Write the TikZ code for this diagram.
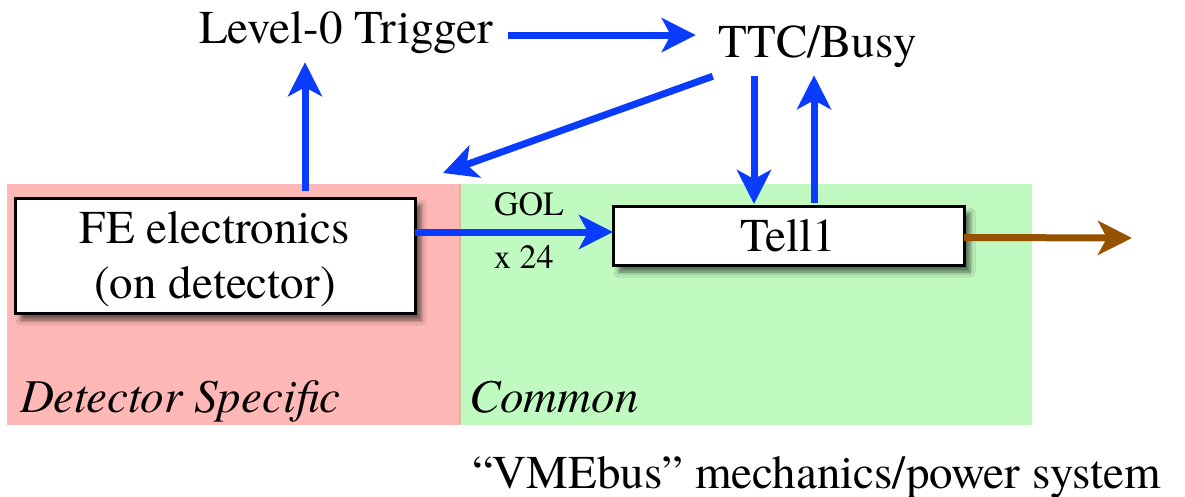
\documentclass[tikz,border=0pt]{standalone}
\usepackage{fontspec}
\setmainfont{TeX Gyre Termes}
\usetikzlibrary{arrows.meta,shadows.blur,calc}
\definecolor{pinkbg}{HTML}{FFB8B6}
\definecolor{greenbg}{HTML}{C0FAC0}
\definecolor{arrblue}{HTML}{0A3CFF}
\definecolor{brownarr}{HTML}{955200}
\definecolor{divtan}{HTML}{D9B99B}
\begin{document}
\begin{tikzpicture}[x=1pt,y=-1pt,
  txt/.style={inner sep=0pt, outer sep=0pt, font=\rmfamily\fontsize{47}{55}\selectfont},
  itxt/.style={txt, font=\rmfamily\fontsize{47}{55}\selectfont\itshape},
  smalltxt/.style={inner sep=0pt, outer sep=0pt, font=\rmfamily\fontsize{34}{40}\selectfont},
  box/.style={draw=black, line width=3pt, fill=white, inner sep=0pt, outer sep=0pt,
    blur shadow={shadow xshift=6pt, shadow yshift=-7pt, shadow blur radius=5pt, shadow opacity=60}},
  arr/.style={draw=arrblue, line width=7pt, -{Stealth[length=34pt,width=34pt,inset=9pt]}},
  region/.style={inner sep=0pt, outer sep=0pt, anchor=north west, draw=none}]
\useasboundingbox (0,0) rectangle (1185,496);
% regions
\node[region, fill=pinkbg, minimum width=452pt, minimum height=241pt] (det) at (7,184) {};
\node[region, fill=greenbg, minimum width=571pt, minimum height=241pt] (com) at (461,184) {};
\fill[divtan] (det.north east) rectangle (com.south west);
% boxes
\node[box, txt, align=center, minimum width=400pt, minimum height=115pt] (FE) at (215,255.5) {\rule{0pt}{40pt}FE electronics\\(on detector)};
\node[box, txt, minimum width=351pt, minimum height=59pt] (T1) at (788.5,235.5) {Tell1};
% texts
\node[txt, anchor=base] (L0) at (346,43) {Level-0 Trigger};
\node[txt, anchor=base] (TTC) at (818,57) {TTC/Busy};
\node[smalltxt, anchor=base west] (gol) at (494,215) {GOL};
\node[smalltxt, anchor=base west] (x24) at (494,268) {x 24};
\node[itxt, anchor=base west] (dslab) at (20,412) {Detector Specific};
\node[itxt, anchor=base west] (comlab) at (469,412) {Common};
\node[txt, anchor=base west] (vme) at (472,488) {“VMEbus” mechanics/power system};
% connectors
\draw[arr] ($(L0.east)+(15,3)$) -- ($(TTC.west |- L0.east)+(-23,3)$);
\draw[arr] ($(FE.north)+(90,-7)$) -- ($(L0.south -| FE.north)+(90,9)$);
\draw[arr] ($(TTC.south west)+(-6,9)$) -- ($(det.north east)+(-16,-11)$);
\draw[arr] ($(TTC.south)+(-64,9)$) -- ($(T1.north)+(-34.5,-2)$);
\draw[arr] ($(T1.north)+(25.5,-3)$) -- ($(TTC.south)+(-4,8)$);
\draw[arr] ($(FE.east)+(0,-23.5)$) -- ($(FE.east -| T1.west)+(0,-23.5)$);
\coordinate (out) at (1132,238);
\draw[arr, draw=brownarr] ($(T1.east)+(0,2)$) -- (out);
\end{tikzpicture}
\end{document}
